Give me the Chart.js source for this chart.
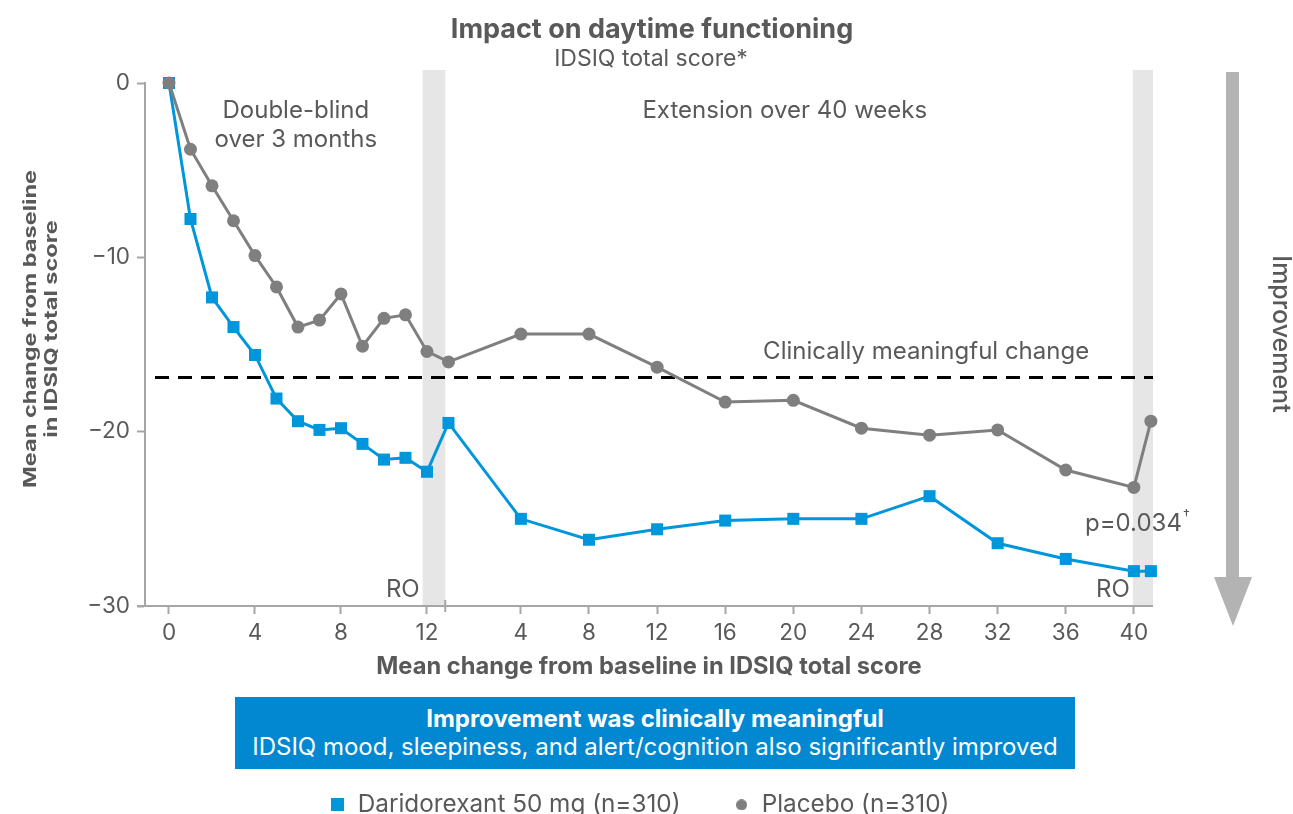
<!DOCTYPE html>
<html>
<head>
<meta charset="utf-8">
<script src="https://cdn.jsdelivr.net/npm/chart.js@4.4.1/dist/chart.umd.min.js"></script>
<style>
  html, body { margin: 0; padding: 0; background: #fff; overflow: hidden; }
  #wrap { position: relative; width: 1293px; height: 827px; }
  #box {
    position: absolute; left: 235px; top: 697px; width: 840px; height: 72px;
    background: #0288d1; color: #fff; font-family: Inter, sans-serif;
    text-align: center; font-size: 24px; line-height: 28px;
    box-sizing: border-box; padding-top: 8px; white-space: nowrap;
  }
  #box b { font-weight: 700; }
</style>
</head>
<body>
<div id="wrap">
  <canvas id="myChart" width="1293" height="827"></canvas>
  <div id="box"><b>Improvement was clinically meaningful</b><br>IDSIQ mood, sleepiness, and alert/cognition also significantly improved</div>
</div>
<script>
// weeks of each study phase
const dbWeeks = [0, 1, 2, 3, 4, 5, 6, 7, 8, 9, 10, 11, 12, 13];
const extWeeks = [4, 8, 12, 16, 20, 24, 28, 32, 36, 40, 41];

// mean change from baseline in IDSIQ total score
const daridorexantDB = [0, -7.8, -12.3, -14.0, -15.6, -18.1, -19.4, -19.9, -19.8, -20.7, -21.6, -21.5, -22.3, -19.5];
const daridorexantExt = [-25.0, -26.2, -25.6, -25.1, -25.0, -25.0, -23.7, -26.4, -27.3, -28.0, -28.0];
const placeboDB = [0, -3.8, -5.9, -7.9, -9.9, -11.7, -14.0, -13.6, -12.1, -15.1, -13.5, -13.3, -15.4, -16.0];
const placeboExt = [-14.4, -14.4, -16.3, -18.3, -18.2, -19.8, -20.2, -19.9, -22.2, -23.2, -19.4];

const clinicallyMeaningful = -16.9;

// tick labels
const dbTickWeeks = [0, 4, 8, 12];
const extTickWeeks = [4, 8, 12, 16, 20, 24, 28, 32, 36, 40];
const yTicks = [0, -10, -20, -30];

const seriesLabels = ["Daridorexant 50 mg (n=310)", "Placebo (n=310)"];

// x axis: double-blind weeks are wider than extension weeks
const EXT_START = 13.2;
const EXT_STEP = 0.792;
const dbPos = (w) => w;
const extPos = (w) => EXT_START + w * EXT_STEP;

const BLUE = "#0096dc";
const GREY = "#7f7f7f";
const TEXT = "#595959";
const AXIS = "#a6a6a6";
const FONT = "Inter, 'Noto Sans', sans-serif";

function toPoints(dbVals, extVals) {
  const a = dbWeeks.map((w, i) => ({ x: dbPos(w), y: dbVals[i] }));
  const b = extWeeks.map((w, i) => ({ x: extPos(w), y: extVals[i] }));
  return [...a, ...b];
}

const xTickPositions = [...dbTickWeeks.map(dbPos), ...extTickWeeks.map(extPos)];
const xTickLabels = [...dbTickWeeks, ...extTickWeeks].map(String);

// RO (run-out) shaded bands, in x axis units
const roBands = [
  [11.8, 12.85],
  [extPos(40) - 0.05, 45.77]
];

function marker(shape, color, size) {
  const c = document.createElement("canvas");
  c.width = size;
  c.height = size;
  const g = c.getContext("2d");
  g.fillStyle = color;
  if (shape === "rect") {
    g.fillRect(0, 0, size, size);
  } else {
    g.beginPath();
    g.arc(size / 2, size / 2, size / 2, 0, Math.PI * 2);
    g.fill();
  }
  return c;
}
const legendMarkers = [marker("rect", BLUE, 13), marker("circle", GREY, 11)];

function text(ctx, str, x, y, font, align) {
  ctx.font = font;
  ctx.fillStyle = TEXT;
  ctx.textAlign = align || "center";
  ctx.textBaseline = "middle";
  ctx.fillText(str, x, y);
}

const decorations = {
  id: "decorations",
  afterLayout(chart) {
    // legend is centred under the plot rather than the whole canvas
    chart.legend.left = 126;
  },
  beforeDatasetsDraw(chart) {
    const { ctx, chartArea, scales } = chart;
    const x = scales.x;
    const y = scales.y;
    ctx.save();
    // grey RO bands
    ctx.fillStyle = "#e6e6e6";
    roBands.forEach(([a, b]) => {
      const x1 = x.getPixelForValue(a);
      const x2 = x.getPixelForValue(b);
      ctx.fillRect(x1, 70, x2 - x1, chartArea.bottom - 70);
    });
    // x axis line (runs past the y axis a bit)
    ctx.strokeStyle = AXIS;
    ctx.lineWidth = 2;
    ctx.beginPath();
    ctx.moveTo(chartArea.left - 8, chartArea.bottom);
    ctx.lineTo(chartArea.right, chartArea.bottom);
    ctx.stroke();
    // break tick between phases
    const bx = x.getPixelForValue(12.85);
    ctx.beginPath();
    ctx.moveTo(bx, chartArea.bottom - 6);
    ctx.lineTo(bx, chartArea.bottom + 6);
    ctx.stroke();
    // clinically meaningful change
    const cy = y.getPixelForValue(clinicallyMeaningful);
    ctx.strokeStyle = "#000";
    ctx.lineWidth = 3;
    ctx.setLineDash([14, 9]);
    ctx.beginPath();
    ctx.moveTo(chartArea.left + 10, cy);
    ctx.lineTo(chartArea.right, cy);
    ctx.stroke();
    ctx.restore();
  },
  afterDraw(chart) {
    const { ctx, scales } = chart;
    const x = scales.x;
    const y = scales.y;
    ctx.save();
    text(ctx, "Impact on daytime functioning", 652, 30, "700 27px " + FONT);
    text(ctx, "IDSIQ total score*", 651, 59, "400 23px " + FONT);

    const ann = "400 24px " + FONT;
    text(ctx, "Double-blind", x.getPixelForValue(5.9), 111, ann);
    text(ctx, "over 3 months", x.getPixelForValue(5.9), 140, ann);
    text(ctx, "Extension over 40 weeks", x.getPixelForValue(extPos(19.5)), 111, ann);
    text(ctx, "Clinically meaningful change", x.getPixelForValue(extPos(27.8)), y.getPixelForValue(clinicallyMeaningful) - 26, ann);
    text(ctx, "RO", x.getPixelForValue(roBands[0][0]) - 3, 590, ann, "right");
    text(ctx, "RO", x.getPixelForValue(roBands[1][0]) - 3, 590, ann, "right");
    text(ctx, "p=0.034", 1085, 524, ann, "left");
    ctx.font = ann;
    const pw = ctx.measureText("p=0.034").width;
    text(ctx, "\u2020", 1085 + pw + 1, 516, "400 14px " + FONT, "left");

    // y axis title (narrow lettering, as in the original)
    ctx.save();
    ctx.rotate(-Math.PI / 2);
    ctx.scale(1, 0.75);
    text(ctx, "Mean change from baseline", -329, 31 / 0.75, "700 23.5px " + FONT);
    text(ctx, "in IDSIQ total score", -329, 52 / 0.75, "700 23.5px " + FONT);
    ctx.restore();

    // improvement arrow
    ctx.fillStyle = "#b3b3b3";
    ctx.fillRect(1226, 72, 13, 506);
    ctx.beginPath();
    ctx.moveTo(1214, 577);
    ctx.lineTo(1252, 577);
    ctx.lineTo(1233, 626);
    ctx.closePath();
    ctx.fill();
    ctx.save();
    ctx.translate(1281, 334);
    ctx.rotate(Math.PI / 2);
    text(ctx, "Improvement", 0, 0, "500 25px " + FONT);
    ctx.restore();
    ctx.restore();
  }
};

const ctx = document.getElementById("myChart");

const chart = new Chart(ctx, {
  type: "line",
  data: {
    datasets: [
      {
        label: seriesLabels[0],
        data: toPoints(daridorexantDB, daridorexantExt),
        borderColor: BLUE,
        backgroundColor: BLUE,
        borderWidth: 3,
        pointStyle: "rect",
        pointRadius: 8.5,
        pointHoverRadius: 8.5,
        pointBorderWidth: 0,
        clip: false,
        order: 2
      },
      {
        label: seriesLabels[1],
        data: toPoints(placeboDB, placeboExt),
        borderColor: GREY,
        backgroundColor: GREY,
        borderWidth: 3,
        pointStyle: "circle",
        pointRadius: 6.5,
        pointHoverRadius: 6.5,
        pointBorderWidth: 0,
        clip: false,
        order: 1
      }
    ]
  },
  options: {
    responsive: false,
    animation: false,
    layout: {
      padding: { top: 83, right: 140, left: 0, bottom: 0 }
    },
    scales: {
      x: {
        type: "linear",
        min: -1.116,
        max: 45.77,
        afterBuildTicks: (scale) => {
          scale.ticks = xTickPositions.map((v) => ({ value: v }));
        },
        afterFit: (scale) => {
          scale.height = 133.7;
        },
        ticks: {
          autoSkip: false,
          maxRotation: 0,
          padding: 6,
          color: TEXT,
          font: { family: FONT, size: 22.5 },
          callback: (value, index) => xTickLabels[index]
        },
        grid: {
          drawOnChartArea: false,
          tickLength: 8,
          tickWidth: 2,
          color: AXIS
        },
        border: { display: false },
        title: {
          display: true,
          text: "Mean change from baseline in IDSIQ total score",
          color: TEXT,
          font: { family: FONT, size: 23.7, weight: "700" },
          padding: { top: 4, bottom: 58.3 }
        }
      },
      y: {
        min: -30,
        max: 0,
        afterBuildTicks: (scale) => {
          scale.ticks = yTicks.map((v) => ({ value: v }));
        },
        afterFit: (scale) => {
          scale.width = 145;
        },
        ticks: {
          padding: 7,
          color: TEXT,
          font: { family: FONT, size: 22.5 },
          callback: (value) => (value < 0 ? "\u2212" + Math.abs(value) : String(value))
        },
        grid: {
          drawOnChartArea: false,
          tickLength: 8,
          tickWidth: 2,
          color: AXIS
        },
        border: { display: true, color: AXIS, width: 2 }
      }
    },
    plugins: {
      legend: {
        position: "bottom",
        labels: {
          usePointStyle: true,
          boxWidth: 16,
          padding: 53,
          color: TEXT,
          font: { family: FONT, size: 24.3 },
          generateLabels: (chart) =>
            chart.data.datasets.map((ds, i) => ({
              text: ds.label,
              pointStyle: legendMarkers[i],
              fillStyle: ds.backgroundColor,
              strokeStyle: ds.borderColor,
              fontColor: TEXT,
              lineWidth: 0,
              datasetIndex: i
            }))
        }
      },
      tooltip: { enabled: false },
      title: { display: false }
    }
  },
  plugins: [decorations]
});
</script>
</body>
</html>
